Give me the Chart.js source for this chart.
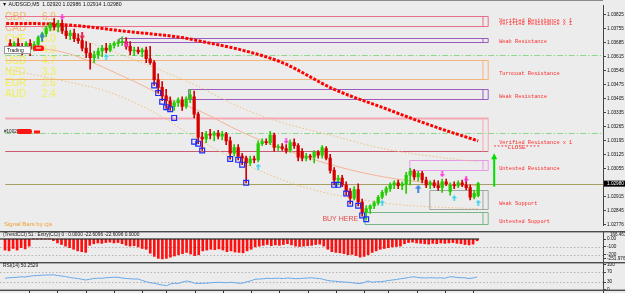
<!DOCTYPE html>
<html>
<head>
<meta charset="utf-8">
<script src="https://cdn.jsdelivr.net/npm/chart.js@4.4.1/dist/chart.umd.min.js"></script>
<style>
html, body { margin: 0; padding: 0; background: #ececec; overflow: hidden; width: 625px; height: 293px; }
canvas { position: absolute; left: 0; }
#main { top: 0; }
#cci { top: 231px; }
#rsi { top: 262px; }
</style>
</head>
<body>
<canvas id="main" width="625" height="231"></canvas>
<canvas id="cci" width="625" height="31"></canvas>
<canvas id="rsi" width="625" height="31"></canvas>
<script>
// AUDSGD M5 candles
const opens = [
  1.03682, 1.03658, 1.03682, 1.03663, 1.03648, 1.03682, 1.03653, 1.03677, 1.03711, 1.03730,
  1.03758, 1.03777, 1.03763, 1.03782, 1.03744, 1.03720, 1.03734, 1.03706, 1.03696, 1.03658,
  1.03634, 1.03610, 1.03624, 1.03644, 1.03658, 1.03648, 1.03672, 1.03682, 1.03687, 1.03691,
  1.03667, 1.03644, 1.03648, 1.03639, 1.03648, 1.03605, 1.03586, 1.03500, 1.03462, 1.03419,
  1.03395, 1.03366, 1.03385, 1.03400, 1.03366, 1.03405, 1.03414, 1.03328, 1.03213, 1.03204,
  1.03228, 1.03223, 1.03233, 1.03218, 1.03228, 1.03194, 1.03132, 1.03161, 1.03118, 1.03108,
  1.03084, 1.03103, 1.03099, 1.03180, 1.03190, 1.03185, 1.03223, 1.03161, 1.03166, 1.03156,
  1.03146, 1.03185, 1.03170, 1.03142, 1.03108, 1.03118, 1.03113, 1.03137, 1.03122, 1.03156,
  1.03108, 1.03046, 1.02998, 1.03008, 1.02974, 1.02941, 1.02907, 1.02950, 1.02888, 1.02836,
  1.02855, 1.02869, 1.02884, 1.02912, 1.02936, 1.02955, 1.02974, 1.02984, 1.02970, 1.02979,
  1.03022, 1.03041, 1.03013, 1.03032, 1.02998, 1.02974, 1.02984, 1.02970, 1.02960, 1.02989,
  1.02941, 1.02974, 1.02970, 1.02984, 1.02974, 1.02960, 1.02912, 1.02920
];
const highs = [
  1.03701, 1.03691, 1.03706, 1.03682, 1.03691, 1.03701, 1.03691, 1.03720, 1.03739, 1.03768,
  1.03787, 1.03806, 1.03797, 1.03801, 1.03768, 1.03749, 1.03754, 1.03730, 1.03715, 1.03691,
  1.03682, 1.03644, 1.03658, 1.03672, 1.03682, 1.03682, 1.03691, 1.03701, 1.03715, 1.03711,
  1.03691, 1.03663, 1.03663, 1.03658, 1.03663, 1.03667, 1.03596, 1.03529, 1.03491, 1.03452,
  1.03414, 1.03395, 1.03409, 1.03414, 1.03414, 1.03452, 1.03443, 1.03338, 1.03237, 1.03242,
  1.03252, 1.03242, 1.03247, 1.03242, 1.03237, 1.03213, 1.03175, 1.03175, 1.03132, 1.03118,
  1.03118, 1.03118, 1.03194, 1.03204, 1.03204, 1.03242, 1.03233, 1.03175, 1.03180, 1.03175,
  1.03199, 1.03204, 1.03180, 1.03156, 1.03132, 1.03127, 1.03146, 1.03146, 1.03170, 1.03166,
  1.03127, 1.03060, 1.03022, 1.03022, 1.02989, 1.02955, 1.02965, 1.02979, 1.02903, 1.02869,
  1.02874, 1.02893, 1.02922, 1.02946, 1.02965, 1.02984, 1.02994, 1.02998, 1.02989, 1.03037,
  1.03056, 1.03051, 1.03041, 1.03041, 1.03013, 1.02994, 1.02998, 1.02994, 1.03003, 1.03003,
  1.02984, 1.02989, 1.02994, 1.02998, 1.03008, 1.02974, 1.02946, 1.02986
];
const lows = [
  1.03644, 1.03634, 1.03653, 1.03624, 1.03634, 1.03620, 1.03644, 1.03663, 1.03691, 1.03715,
  1.03744, 1.03749, 1.03739, 1.03730, 1.03706, 1.03701, 1.03691, 1.03682, 1.03644, 1.03610,
  1.03553, 1.03586, 1.03605, 1.03615, 1.03634, 1.03639, 1.03658, 1.03667, 1.03672, 1.03653,
  1.03624, 1.03620, 1.03629, 1.03615, 1.03586, 1.03577, 1.03471, 1.03433, 1.03395, 1.03357,
  1.03347, 1.03347, 1.03366, 1.03347, 1.03357, 1.03385, 1.03309, 1.03180, 1.03146, 1.03185,
  1.03204, 1.03194, 1.03204, 1.03199, 1.03175, 1.03103, 1.03118, 1.03099, 1.03075, 1.02984,
  1.03070, 1.03084, 1.03089, 1.03170, 1.03175, 1.03175, 1.03142, 1.03146, 1.03146, 1.03132,
  1.03137, 1.03156, 1.03094, 1.03094, 1.03094, 1.03099, 1.03084, 1.03108, 1.03108, 1.03099,
  1.03032, 1.02974, 1.02974, 1.02965, 1.02922, 1.02879, 1.02898, 1.02869, 1.02817, 1.02798,
  1.02831, 1.02855, 1.02874, 1.02903, 1.02922, 1.02941, 1.02955, 1.02955, 1.02950, 1.02931,
  1.02974, 1.02998, 1.02994, 1.02984, 1.02960, 1.02955, 1.02960, 1.02946, 1.02936, 1.02970,
  1.02922, 1.02955, 1.02960, 1.02965, 1.02950, 1.02898, 1.02903, 1.02914
];
const closes = [
  1.03658, 1.03682, 1.03663, 1.03648, 1.03682, 1.03653, 1.03677, 1.03711, 1.03730, 1.03758,
  1.03777, 1.03763, 1.03782, 1.03744, 1.03720, 1.03734, 1.03706, 1.03696, 1.03658, 1.03634,
  1.03610, 1.03624, 1.03644, 1.03658, 1.03648, 1.03672, 1.03682, 1.03687, 1.03691, 1.03667,
  1.03644, 1.03648, 1.03639, 1.03648, 1.03605, 1.03586, 1.03500, 1.03462, 1.03419, 1.03395,
  1.03366, 1.03385, 1.03400, 1.03366, 1.03405, 1.03424, 1.03328, 1.03213, 1.03204, 1.03228,
  1.03223, 1.03233, 1.03218, 1.03228, 1.03194, 1.03132, 1.03161, 1.03118, 1.03108, 1.03084,
  1.03103, 1.03099, 1.03180, 1.03190, 1.03185, 1.03223, 1.03161, 1.03166, 1.03156, 1.03146,
  1.03185, 1.03170, 1.03113, 1.03108, 1.03118, 1.03113, 1.03137, 1.03122, 1.03161, 1.03108,
  1.03046, 1.02998, 1.03008, 1.02974, 1.02941, 1.02907, 1.02950, 1.02888, 1.02836, 1.02855,
  1.02869, 1.02884, 1.02912, 1.02936, 1.02955, 1.02974, 1.02984, 1.02970, 1.02979, 1.03022,
  1.03041, 1.03013, 1.03032, 1.02998, 1.02974, 1.02984, 1.02970, 1.02960, 1.02989, 1.02979,
  1.02974, 1.02970, 1.02984, 1.02974, 1.02960, 1.02912, 1.02931, 1.02980
];

// moving average (red dots) and the two bands, sampled at candle indexes
const maIdx = [-1, 9, 18, 28, 43, 48, 58, 68, 81, 93, 100, 108, 117];
const maVal = [1.03782, 1.03780, 1.03768, 1.03744, 1.03711, 1.03691, 1.03648, 1.03586, 1.03452, 1.03362, 1.03309, 1.03252, 1.03194];
const upIdx = [-1, 14, 31, 46, 58, 68, 81, 93, 105, 117];
const upVal = [1.03835, 1.03730, 1.03600, 1.03476, 1.03357, 1.03285, 1.03218, 1.03156, 1.03118, 1.03089];
const midIdx = [-1, 14, 29, 41, 47, 58, 68, 81, 95, 105, 117];
const midVal = [1.03672, 1.03634, 1.03510, 1.03395, 1.03347, 1.03237, 1.03156, 1.03070, 1.03008, 1.02984, 1.02970];
const loIdx = [-1, 14, 24, 35, 48, 58, 73, 93, 105, 117];
const loVal = [1.03553, 1.03491, 1.03443, 1.03347, 1.03190, 1.03084, 1.02965, 1.02884, 1.02864, 1.02855];

// signal marks
const sqIdx = [36, 37, 38, 39, 40, 41, 46, 47, 48, 55, 57, 58, 59, 81, 82, 84, 85, 87, 88, 89];
const sqVal = [1.03471, 1.03433, 1.03390, 1.03362, 1.03352, 1.03309, 1.03190, 1.03180, 1.03146, 1.03103,
               1.03099, 1.03075, 1.02984, 1.02974, 1.02974, 1.02931, 1.02879, 1.02869, 1.02821, 1.02802];
const cyanUpIdx = [24, 62, 93, 111, 117];
const cyanUpVal = [1.03615, 1.03065, 1.02884, 1.02907, 1.02884];
const blueUpIdx = [8, 102];
const blueUpVal = [1.03715, 1.02955];
const pinkDnIdx = [13, 29, 69, 108, 114];
const pinkDnVal = [1.03816, 1.03677, 1.03194, 1.03027, 1.03003];
const redDnIdx = [18];
const redDnVal = [1.03720];

// supply / demand zones
const zoneNames = ['Verified Resistance x 1\nVerified Resistance x 1', 'Weak Resistance', 'Turncoat Resistance', 'Weak Resistance',
                   'Verified Resistance x 1', 'Untested Resistance', 'Weak Support', 'Untested Support'];
const zoneTop = [1.03820, 1.03711, 1.03600, 1.03452, 1.03309, 1.03099, 1.02950, 1.02836];
const zoneBottom = [1.03768, 1.03691, 1.03505, 1.03405, 1.03142, 1.03046, 1.02855, 1.02778];
const zoneFrom = [-2, 27.3, -2, 44.6, -2, 99.9, 104.9, 88.7];
const pivotLevels = [1.03624, 1.03233];

// currency strength panel
const currencies = ['GBP', 'CAD', 'CHF', 'JPY', 'USD', 'NZD', 'EUR', 'AUD'];
const strength = [6.9, 6.3, 5.0, 4.9, 4.7, 3.3, 2.6, 2.4];

// indicator windows
const cci = [
  -140, -150, -120, -140, -110, -125, -90,
  0, 0, 0, 0, 0, -20,
  -50, -70, -90, -110, -130, -150, -160, -170,
  -80, -60, -50, -55, -45, -40, -50, -45,
  -60, -80, -90, -85, -100, -120, -130,
  -180, -220, -245, -252, -245, -230, -215,
  -200, -185, -170, -190, -210, -200,
  -150, -140, -130, -135, -125, -140, -160, -150, -165, -170, -175, -150, -130,
  -100, -90, -80, -70, -85, -75, -80, -70, -60, -75, -90, -95,
  -90, -85, -80, -70, -65, -90,
  -130, -160, -170, -175, -185,
  -200, -195, -210, -230, -220, -200,
  -170, -150, -130, -120, -110, -100, -95, -90,
  -60, -45, -40, -50, -55, -60, -65, -55, -60, -50, -55, -50, -45, -55, -60, -70, -75, -65, -23
];
const rsi = [
  45, 47, 48, 49, 51, 50, 53, 55, 56, 57,
  58, 58, 59, 56, 54, 52, 48, 46, 44, 41,
  38, 41, 44, 45, 45, 47, 48, 49, 49, 46,
  44, 43, 42, 42, 36, 31, 27, 25, 21, 18,
  15, 22, 25, 24, 30, 34, 31, 25, 24, 25,
  25, 27, 28, 29, 28, 27, 29, 27, 25, 26,
  31, 35, 41, 42, 43, 45, 44, 45, 45, 44,
  46, 45, 43, 44, 45, 46, 47, 45, 44, 40,
  36, 34, 33, 31, 30, 29, 27, 25, 24, 28,
  34, 29, 31, 31, 33, 36, 38, 40, 43, 45,
  48, 51, 49, 47, 46, 47, 47, 46, 47, 45,
  50, 51, 48, 47, 47, 44, 46, 50.25
];

const priceTicks = [1.03825, 1.03755, 1.03685, 1.03615, 1.03545, 1.03475, 1.03405, 1.03335, 1.03265,
                    1.03195, 1.03125, 1.03055, 1.02915, 1.02845, 1.02776];
const cciTicks = [100, 0, -100, -200, -251.9764];
const cciLevels = [-100, -200];
const rsiTicks = [100, 70, 30, 0];
const rsiLevels = [70, 30];
const timeTickIdx = [6, 13, 20, 27, 34, 40, 47, 54, 61, 68, 75, 82, 89, 95, 102, 109, 116];

// ---- look ----
const COL = { up: '#22cc00', down: '#d40000', label: '#ff2a2a', frame: '#4a4a4a' };
const ZONE_STYLE = [
  { top: '#e8708a' }, { top: '#9a5cc0' }, { top: '#f2b57a' }, { top: '#9a5cc0' },
  { top: '#f4a8b4', topW: 2, bottom: '#c85a72' }, { top: '#e59ae8' }, { top: '#a0a8a0' }, { top: '#78b888' }
];
const VIEW_MIN = -1.24, VIEW_MAX = 148.2;
const SIGNAL_ZONE = 4;

Chart.defaults.font.family = 'Liberation Sans';

const idx = closes.map((_, i) => i);
const last = closes.length - 1;
const candleColor = idx.map(i => closes[i] >= opens[i] ? COL.up : COL.down);
const pts = (xs, ys) => xs.map((v, k) => ({ x: v, y: ys[k] }));

function arrowImg(color, w, h, down) {
  const c = document.createElement('canvas');
  c.width = w; c.height = h;
  const g = c.getContext('2d');
  g.fillStyle = color;
  if (down) { g.translate(0, h); g.scale(1, -1); }
  g.beginPath();
  g.moveTo(w / 2, 0); g.lineTo(w, h * 0.5); g.lineTo(w * 0.66, h * 0.5); g.lineTo(w * 0.66, h);
  g.lineTo(w * 0.34, h); g.lineTo(w * 0.34, h * 0.5); g.lineTo(0, h * 0.5);
  g.closePath(); g.fill();
  return c;
}

function txt(ctx, s, x, y, font, color, align) {
  ctx.font = font; ctx.fillStyle = color; ctx.textAlign = align || 'left'; ctx.textBaseline = 'middle';
  ctx.fillText(s, x, y);
}
function seg(ctx, x0, y0, x1, y1) {
  ctx.beginPath(); ctx.moveTo(x0, y0); ctx.lineTo(x1, y1); ctx.stroke();
}

function xAxis() {
  return { type: 'linear', min: VIEW_MIN, max: VIEW_MAX, display: false, offset: false };
}
function rightAxis(min, max, ticks, fmt) {
  return {
    position: 'right', min: min, max: max, bounds: 'data', beginAtZero: false,
    afterFit(s) { s.width = 22; s.paddingTop = 0; s.paddingBottom = 0; },
    afterBuildTicks(s) { s.ticks = ticks.map(v => ({ value: v })); },
    ticks: { autoSkip: false, font: { size: 4.7 }, color: '#111', padding: 1, callback: fmt },
    grid: { drawOnChartArea: false, tickLength: 3, color: '#444' },
    border: { color: '#444', width: 1 }
  };
}
const baseOpts = {
  responsive: false, animation: false, devicePixelRatio: 1,
  layout: { padding: 0 },
  plugins: { legend: { display: false }, tooltip: { enabled: false } }
};

const mainDeco = {
  id: 'mainDeco',
  beforeDatasetsDraw(chart) {
    const { ctx, chartArea: a, scales: { x, y } } = chart;
    const xEnd = x.getPixelForValue(last + 2.5);
    const xBox = x.getPixelForValue(last + 1.2);
    ctx.save();
    ctx.fillStyle = '#8a8a8a';
    ctx.fillRect(0, 0, a.right, 1);

    currencies.forEach((c, k) => {
      const yy = 17 + k * 11.1;
      const col = k < 2 ? '#f2b865' : '#f0f055';
      txt(ctx, c, 5, yy, '10px "Liberation Sans"', col);
      txt(ctx, strength[k].toFixed(1), 42, yy, '10px "Liberation Sans"', col);
    });

    zoneNames.forEach((n, k) => {
      const st = ZONE_STYLE[k];
      const yt = Math.round(y.getPixelForValue(zoneTop[k])) + 0.5;
      const yb = Math.round(y.getPixelForValue(zoneBottom[k])) + 0.5;
      const x0 = Math.max(a.left, x.getPixelForValue(zoneFrom[k]));
      ctx.strokeStyle = st.top; ctx.lineWidth = st.topW || 1;
      seg(ctx, x0, yt, xEnd, yt);
      ctx.lineWidth = 1;
      ctx.strokeStyle = st.bottom || st.top;
      seg(ctx, x0, yb, xEnd, yb);
      ctx.strokeStyle = st.top;
      seg(ctx, xEnd, yt, xEnd, yb);
      seg(ctx, xBox, yt, xBox, yb);
      if (x0 > a.left + 1) seg(ctx, x0, yt, x0, yb);
    });

    ctx.strokeStyle = '#8ed88e'; ctx.lineWidth = 1; ctx.setLineDash([6, 2, 1.5, 2]);
    pivotLevels.forEach(v => {
      const yy = Math.round(y.getPixelForValue(v)) + 0.5;
      seg(ctx, a.left, yy, a.right, yy);
    });
    ctx.setLineDash([]);
    ctx.strokeStyle = '#a8a060';
    const yc = Math.round(y.getPixelForValue(closes[last])) + 0.5;
    seg(ctx, a.left, yc, a.right, yc);
    ctx.restore();
  },
  afterDatasetsDraw(chart) {
    const { ctx, scales: { x, y } } = chart;
    const xEnd = x.getPixelForValue(last + 2.5);
    ctx.save();
    const mono = '5.3px "Liberation Mono"';
    zoneNames.forEach((n, k) => {
      const yt = y.getPixelForValue(zoneTop[k]);
      const yb = y.getPixelForValue(zoneBottom[k]);
      const ly = yb - 0.3 * (yb - yt) + 1;
      const lines = n.split('\n');
      lines.forEach((s, j) => txt(ctx, s, xEnd + 11, ly - (lines.length - 1 - j) * 3.6, mono, COL.label));
      if (k === SIGNAL_ZONE) txt(ctx, '****CLOSE****', xEnd + 5, ly + 5, '6px "Liberation Mono"', COL.label);
    });

    // up signal arrow
    const ax = xEnd + 6;
    const yFrom = y.getPixelForValue(closes[last]) + 3;
    const yTo = y.getPixelForValue(zoneBottom[SIGNAL_ZONE]) + 2;
    ctx.strokeStyle = '#00dd00'; ctx.fillStyle = '#00dd00'; ctx.lineWidth = 2;
    seg(ctx, ax, yFrom, ax, yTo + 5);
    ctx.beginPath(); ctx.moveTo(ax, yTo); ctx.lineTo(ax + 3, yTo + 6); ctx.lineTo(ax - 3, yTo + 6); ctx.closePath(); ctx.fill();

    // chart header and object labels
    txt(ctx, '\u25BC AUDSGD,M5  1.02920 1.02986 1.02914 1.02980', 2, 5, '5.2px "Liberation Sans"', '#111');
    ctx.fillStyle = '#fff'; ctx.strokeStyle = '#999'; ctx.lineWidth = 1;
    ctx.fillRect(4, 46, 27, 8); ctx.strokeRect(4.5, 46.5, 26, 7);
    txt(ctx, 'Trading', 7, 50.5, '5px "Liberation Sans"', '#111');
    ctx.fillStyle = '#ff1414';
    ctx.beginPath(); ctx.roundRect(33, 45.5, 11, 5.5, 2); ctx.fill();
    ctx.fillStyle = '#fff'; ctx.fillRect(36, 47.5, 5, 1);
    txt(ctx, '#10028', 4, 131.5, '4.6px "Liberation Sans"', '#111');
    ctx.fillStyle = '#ff1414';
    ctx.beginPath(); ctx.roundRect(17, 129, 15, 5, 2); ctx.fill();
    ctx.fillRect(34, 130.5, 6, 3);
    txt(ctx, 'Signal Bars by cja', 4, 224, '6px "Liberation Sans"', '#f0a030');
    let lowI = 0;
    lows.forEach((v, i) => { if (v < lows[lowI]) lowI = i; });
    txt(ctx, 'BUY HERE', x.getPixelForValue(lowI) - 8, y.getPixelForValue(lows[lowI]) - 1, '7px "Liberation Sans"', '#e04848', 'right');
    ctx.restore();
  },
  afterDraw(chart) {
    const { ctx, chartArea: a, scales: { y } } = chart;
    const yc = y.getPixelForValue(closes[last]);
    ctx.save();
    ctx.fillStyle = '#000';
    ctx.fillRect(a.right + 1, yc - 3, 22, 6);
    txt(ctx, closes[last].toFixed(5), a.right + 4, yc + 0.3, '4.7px "Liberation Sans"', '#fff');
    ctx.restore();
  }
};

new Chart(document.getElementById('main'), {
  type: 'bar',
  data: {
    datasets: [
      { type: 'bar', data: idx.map(i => ({ x: i, y: [opens[i], closes[i]] })), backgroundColor: candleColor,
        barThickness: 2.6, minBarLength: 1, grouped: false, order: 1 },
      { type: 'bar', data: idx.map(i => ({ x: i, y: [lows[i], highs[i]] })), backgroundColor: candleColor,
        barThickness: 1, grouped: false, order: 2 },
      { type: 'line', data: pts(maIdx, maVal), borderColor: '#ff0000', borderWidth: 3, borderDash: [3, 1.5],
        pointRadius: 0, cubicInterpolationMode: 'monotone', order: 3 },
      { type: 'line', data: pts(upIdx, upVal), borderColor: '#eec080', borderWidth: 1, borderDash: [1.5, 2],
        pointRadius: 0, cubicInterpolationMode: 'monotone', order: 4 },
      { type: 'line', data: pts(midIdx, midVal), borderColor: '#f4b496', borderWidth: 1,
        pointRadius: 0, cubicInterpolationMode: 'monotone', order: 4 },
      { type: 'line', data: pts(loIdx, loVal), borderColor: '#eec080', borderWidth: 1, borderDash: [1.5, 2],
        pointRadius: 0, cubicInterpolationMode: 'monotone', order: 4 },
      { type: 'line', data: pts(sqIdx, sqVal), showLine: false, pointStyle: 'rect', pointRadius: 3.4,
        pointBorderColor: '#1a2cff', pointBackgroundColor: 'rgba(0,0,0,0)', pointBorderWidth: 1.2, order: 0 },
      { type: 'line', data: pts(cyanUpIdx, cyanUpVal), showLine: false, pointStyle: arrowImg('#30d4ec', 5, 6, false), order: 0 },
      { type: 'line', data: pts(blueUpIdx, blueUpVal), showLine: false, pointStyle: arrowImg('#3a82e0', 6, 8, false), order: 0 },
      { type: 'line', data: pts(pinkDnIdx, pinkDnVal), showLine: false, pointStyle: arrowImg('#ff30e0', 5, 6, true), order: 0 },
      { type: 'line', data: pts(redDnIdx, redDnVal), showLine: false, pointStyle: arrowImg('#e8204a', 6, 7, true), order: 0 }
    ]
  },
  options: Object.assign({}, baseOpts, {
    scales: {
      x: xAxis(),
      y: rightAxis(1.02769, 1.03873, priceTicks, v => v.toFixed(5))
    }
  }),
  plugins: [mainDeco]
});

const paneDeco = (header, levels, zeroLine, extra) => ({
  id: 'paneDeco',
  beforeDatasetsDraw(chart) {
    const { ctx, chartArea: a, scales: { y } } = chart;
    ctx.save();
    ctx.strokeStyle = '#b4b4b4'; ctx.lineWidth = 1; ctx.setLineDash([1.5, 2]);
    levels.forEach(v => { const yy = Math.round(y.getPixelForValue(v)) + 0.5; seg(ctx, a.left, yy, a.right, yy); });
    ctx.setLineDash([]);
    ctx.restore();
  },
  afterDraw(chart) {
    const { ctx, chartArea: a, scales: { x, y } } = chart;
    ctx.save();
    ctx.fillStyle = COL.frame;
    ctx.fillRect(0, 0, chart.width, 1.4);
    if (zeroLine) {
      ctx.strokeStyle = '#000'; ctx.lineWidth = 1.2;
      const yy = y.getPixelForValue(0);
      seg(ctx, a.left, yy, x.getPixelForValue(last + 0.5), yy);
    }
    txt(ctx, header, 3, 4, '4.8px "Liberation Sans"', '#111');
    if (extra) extra(ctx, chart);
    ctx.restore();
  }
});

new Chart(document.getElementById('cci'), {
  type: 'bar',
  data: { datasets: [{ data: idx.map(i => ({ x: i, y: cci[i] })), backgroundColor: '#ff1010', barThickness: 2, grouped: false }] },
  options: Object.assign({}, baseOpts, {
    scales: {
      x: xAxis(),
      y: rightAxis(-291, 101.3, cciTicks, v => v === 0 ? '0.00' : (Number.isInteger(v) ? String(v) : v.toFixed(4)))
    }
  }),
  plugins: [paneDeco('(TrendCCI) 51 : Entry(CCI) 0 : 0.0000 -22.6096 -22.6096 0.0000', cciLevels, true,
    (ctx, chart) => txt(ctx, '166.4671', chart.chartArea.right + 7, 4, '4.5px "Liberation Sans"', '#111'))]
});

new Chart(document.getElementById('rsi'), {
  type: 'line',
  data: { datasets: [{ data: idx.map(i => ({ x: i, y: rsi[i] })), borderColor: '#68a8e8', borderWidth: 1, pointRadius: 0 }] },
  options: Object.assign({}, baseOpts, {
    scales: {
      x: xAxis(),
      y: rightAxis(-14, 110, rsiTicks, v => String(v))
    }
  }),
  plugins: [paneDeco('RSI(14) 50.2529', rsiLevels, false, (ctx, chart) => {
    const x = chart.scales.x;
    ctx.fillStyle = COL.frame;
    ctx.fillRect(0, 27.6, chart.width, 1.4);
    ctx.fillStyle = '#333';
    timeTickIdx.forEach(i => ctx.fillRect(Math.round(x.getPixelForValue(i)), 29, 1, 2));
  })]
});
</script>
</body>
</html>
